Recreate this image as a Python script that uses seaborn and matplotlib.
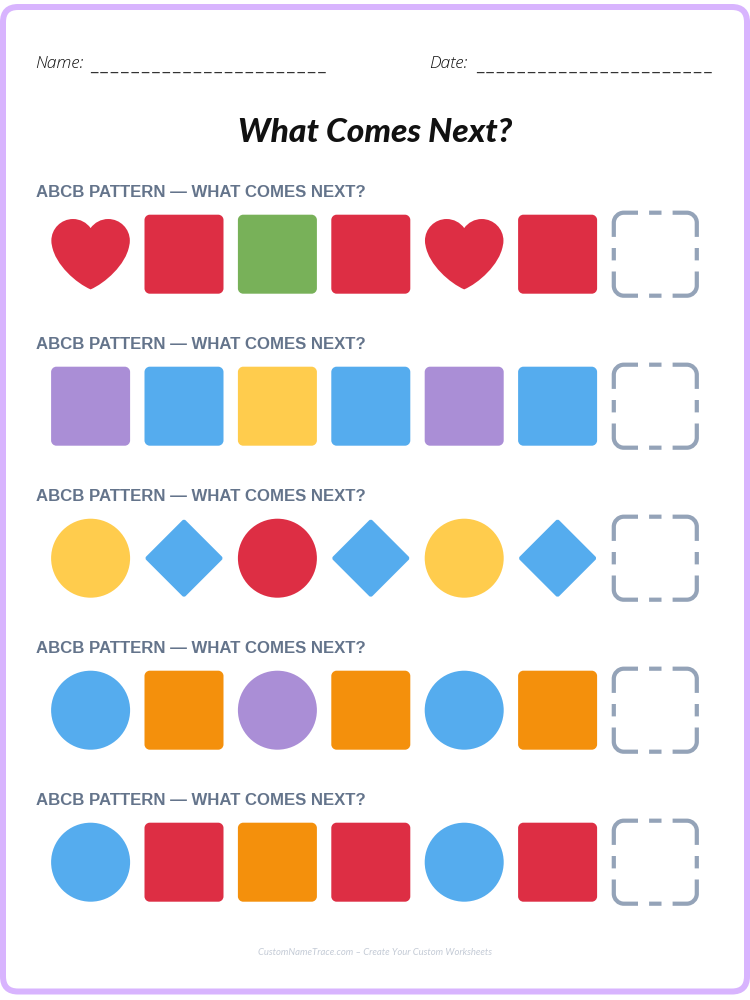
import matplotlib
matplotlib.use("Agg")
import matplotlib.pyplot as plt
import pandas as pd
import seaborn as sns
from matplotlib.path import Path
from matplotlib.patches import FancyBboxPatch

# ---- chart content -------------------------------------------------
ROW_SHAPES = [
    ["heart", "square", "square", "square", "heart", "square"],
    ["square", "square", "square", "square", "square", "square"],
    ["circle", "diamond", "circle", "diamond", "circle", "diamond"],
    ["circle", "square", "circle", "square", "circle", "square"],
    ["circle", "square", "square", "square", "circle", "square"],
]
ROW_COLOURS = [
    ["red", "red", "green", "red", "red", "red"],
    ["purple", "blue", "yellow", "blue", "purple", "blue"],
    ["yellow", "blue", "red", "blue", "yellow", "blue"],
    ["blue", "orange", "purple", "orange", "blue", "orange"],
    ["blue", "red", "orange", "red", "blue", "red"],
]
HEADING = "ABCB PATTERN — WHAT COMES NEXT?"
TITLE = "What Comes Next?"
NAME_LABEL = "Name:"
DATE_LABEL = "Date:"
FOOTER = "CustomNameTrace.com – Create Your Custom Worksheets"

# ---- layout and style ----------------------------------------------
W, H, DPI = 750, 1000, 100
PALETTE = {"red": "#DD2E44", "green": "#78B159", "purple": "#AA8ED6", "blue": "#55ACEE",
           "yellow": "#FFCC4D", "orange": "#F4900C"}
LILAC, SLATE, SLOT, MUTED = "#D8B4FE", "#64748B", "#94A3B8", "#C4CBD6"
SLOT_X = [90.6, 184.0, 277.4, 370.8, 464.2, 557.6]
ANSWER_X = 655.3
ROW_Y = [254.2, 406.2, 558.2, 710.2, 862.2]
HEAD_BASE = [197.2, 349.2, 501.2, 653.2, 805.2]
px = 72 / DPI

C, M, L = Path.CURVE4, Path.MOVETO, Path.LINETO


def marker(verts, codes):
    """Filled path in a 36-unit box (y down); a degenerate lead-in fixes the marker scale."""
    v = [(18, 18), (18, 18)] + [(x - 18, 18 - y) for x, y in verts]
    return Path(v, [M, L] + list(codes))


HEART = marker(
    [(35.885, 11.833), (35.885, 6.383), (31.467, 1.965), (26.018, 1.965), (22.71, 1.965), (19.791, 3.598),
     (18, 6.094), (16.209, 3.598), (13.29, 1.965), (9.983, 1.965), (4.533, 1.965), (0.115, 6.382), (0.115, 11.833),
     (0.115, 12.605), (0.213, 13.353), (0.381, 14.074), (1.9, 22.9), (11.6, 31.3), (18, 34.034),
     (24.4, 31.3), (34.1, 22.9), (35.617, 14.075), (35.787, 13.354), (35.885, 12.606), (35.885, 11.833)],
    [M] + [C] * 24)


def round_poly(corners, r):
    k = 0.45
    verts, codes = [], []
    n = len(corners)
    for i, (cx, cy) in enumerate(corners):
        (px0, py0), (nx, ny) = corners[i - 1], corners[(i + 1) % n]
        d0 = ((px0 - cx) ** 2 + (py0 - cy) ** 2) ** .5
        d1 = ((nx - cx) ** 2 + (ny - cy) ** 2) ** .5
        a = (cx + (px0 - cx) * r / d0, cy + (py0 - cy) * r / d0)
        b = (cx + (nx - cx) * r / d1, cy + (ny - cy) * r / d1)
        verts += [a, (cx + (a[0] - cx) * k, cy + (a[1] - cy) * k),
                  (cx + (b[0] - cx) * k, cy + (b[1] - cy) * k), b]
        codes += [M if i == 0 else L, C, C, C]
    verts.append(verts[0])
    codes.append(L)
    return marker(verts, codes)


SQUARE = round_poly([(0, 0), (36, 0), (36, 36), (0, 36)], 2.4)
DIAMOND = round_poly([(18, 0), (36, 18), (18, 36), (0, 18)], 1.1)
cv = Path.unit_circle()
CIRCLE = marker([(18 + 18 * x, 18 - 18 * y) for x, y in cv.vertices[:-1]] + [(18 + 18 * cv.vertices[0][0], 18 - 18 * cv.vertices[0][1])],
                list(cv.codes[:-1]) + [C])
MARKERS = {"heart": HEART, "square": SQUARE, "diamond": DIAMOND, "circle": CIRCLE}

# dashed answer slot in pixels about its centre: four corner strokes and four mid-side dashes
h, r, end, dash = 41.5, 10.0, 17.3, 6.2
ctrl = r * 0.45
a_verts, a_codes = [], []
for sx, sy in [(-1, 1), (1, 1), (1, -1), (-1, -1)]:
    a_verts += [(sx * h, sy * end), (sx * h, sy * (h - r)), (sx * h, sy * (h - ctrl)),
                (sx * (h - ctrl), sy * h), (sx * (h - r), sy * h), (sx * end, sy * h)]
    a_codes += [M, L, C, C, C, L]
for sx, sy in [(0, 1), (0, -1), (1, 0), (-1, 0)]:
    if sx == 0:
        a_verts += [(-dash, sy * h), (dash, sy * h)]
    else:
        a_verts += [(sx * h, -dash), (sx * h, dash)]
    a_codes += [M, L]
ANSWER = Path(a_verts, a_codes)

shapes = pd.DataFrame([
    {"x": SLOT_X[i], "y": ROW_Y[r_i], "shape": s, "colour": c}
    for r_i, (row_s, row_c) in enumerate(zip(ROW_SHAPES, ROW_COLOURS))
    for i, (s, c) in enumerate(zip(row_s, row_c))
])
answers = pd.DataFrame({"x": [ANSWER_X] * len(ROW_Y), "y": ROW_Y})

# ---- figure --------------------------------------------------------
sns.set_theme(style="white")
fig = plt.figure(figsize=(W / DPI, H / DPI), dpi=DPI, facecolor="white")
ax = fig.add_axes([0, 0, 1, 1])
ax.set_xlim(0, W)
ax.set_ylim(H, 0)
ax.axis("off")

ax.add_patch(FancyBboxPatch((3, 7), 744, 984.5, boxstyle="round,pad=0,rounding_size=15",
                            fc="white", ec=LILAC, lw=6 * px, zorder=0))

sns.scatterplot(data=shapes, x="x", y="y", hue="colour", style="shape", palette=PALETTE, markers=MARKERS,
                s=(79 * px) ** 2, linewidth=0, legend=False, ax=ax, zorder=3)
ax.scatter(answers["x"], answers["y"], marker=ANSWER, s=(2 * h * px) ** 2, facecolors="none",
           edgecolors=SLOT, linewidths=4.2 * px, zorder=3)
ax.set_xlabel("")
ax.set_ylabel("")

hand = dict(family="Open Sans", style="italic", weight="light", color="#111111")
dash_line = "\u2009".join("_" * 23)
ax.text(35.5, 67.5, NAME_LABEL, fontsize=17.5 * px, va="baseline", ha="left", **hand)
ax.text(429.5, 67.5, DATE_LABEL, fontsize=17.5 * px, va="baseline", ha="left", **hand)
for x0 in (90.5, 476.5):
    ax.text(x0, 68.5, dash_line, fontsize=14.8 * px, family="DejaVu Sans", color="#333333",
            va="baseline", ha="left")
ax.text(375, 142, TITLE, fontsize=33.5 * px, family="Lato", style="italic", weight="black",
        color="#111111", va="baseline", ha="center")
for y in HEAD_BASE:
    ax.text(36, y, HEADING, fontsize=16.7 * px, family="Liberation Sans", weight="bold", color=SLATE,
            va="baseline", ha="left")
ax.text(375, 952.5, FOOTER, fontsize=9.45 * px, family="Lato", style="italic", weight="regular", color=MUTED,
        va="center", ha="center")

fig.savefig("out.png", dpi=DPI, facecolor="white")
